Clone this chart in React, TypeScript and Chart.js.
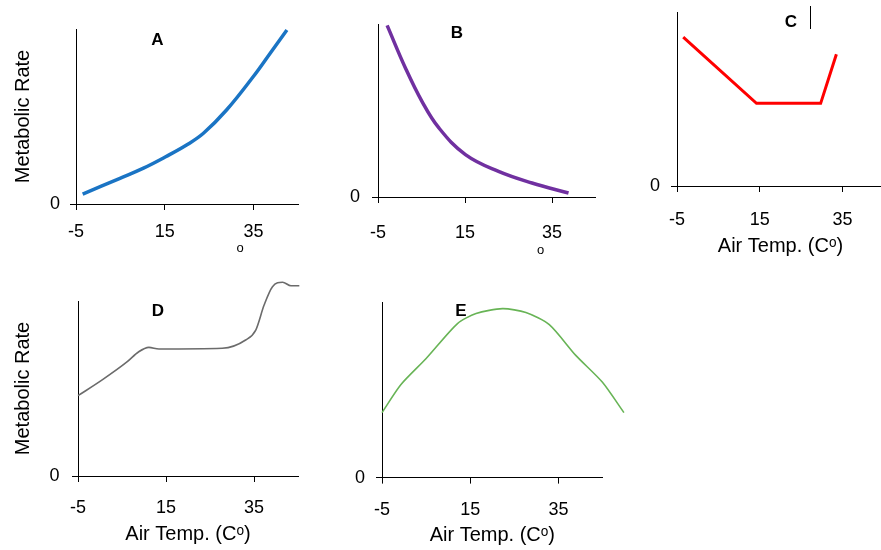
import React, { useEffect, useRef } from "react";
import { Chart, registerables } from "chart.js";

Chart.register(...registerables);

// ---- data ----
const xTickValues = [-5, 15, 35];
const yTickValues = [0];
const xMin = -5;
const xMax = 45;
const yMin = 0;
const yMax = 100;

const aTemps = [-3.5, 4.9, 10.2, 15.2, 19.9, 23.7, 28.9, 34.9, 38.7, 42.5];
const aRates = [5.7, 14.7, 20.5, 27, 33.7, 40.4, 53.7, 72.7, 86, 99.4];

const bTemps = [-2.9, 1.3, 5.1, 9.0, 15.1, 22.7, 30.4, 38.8];
const bRates = [99.2, 74.6, 55.3, 39.9, 24.5, 14.8, 8.1, 2.3];

const cTemps = [-3.5, 14.2, 29.7, 33.5];
const cRates = [85.5, 47.5, 47.5, 75.7];

const dTemps = [-5, 0.5, 6.2, 8.8, 11.1, 13.4, 27.8, 33.1, 35.4, 37.3, 39.2, 41.5, 43.4, 45.3];
const dRates = [45.9, 54.9, 65.3, 71, 73.5, 72.6, 73, 77.7, 83.4, 97.7, 108.2, 110.7, 108.7, 108.7];

const eTemps = [-5, -0.7, 5.0, 12.1, 16.3, 22.3, 27.6, 32.9, 38.9, 44.9, 49.8];
const eRates = [37, 53, 67.8, 87.7, 93.4, 96.2, 94, 87.1, 69.6, 54.4, 37];

const yTitleText = "Metabolic Rate";
const xTitleText = "Air Temp. (C\u1D52)";
const panelLetters = ["A", "B", "C", "D", "E"];

const FONT = "'Liberation Sans', Arial, Helvetica, sans-serif";

type Panel = {
  temps: number[];
  rates: number[];
  color: string;
  width: number;
  tension: number;
  mono: boolean;
  area: { L: number; T: number; R: number; B: number };
  yAxisW: number;
  xAxisH: number;
  padRight: number;
  xTickPad: number;
  yTickPad: number;
  yTitle: string | null;
  xTitle: string | null;
};

const panels: Panel[] = [
  {
    temps: aTemps, rates: aRates, color: "#1a74c4", width: 3.5, tension: 0.4, mono: false,
    area: { L: 76, T: 29, R: 298, B: 204 }, yAxisW: 76, xAxisH: 50, padRight: 20,
    xTickPad: 11, yTickPad: 10, yTitle: yTitleText, xTitle: null,
  },
  {
    temps: bTemps, rates: bRates, color: "#7030a0", width: 3.5, tension: 0.4, mono: false,
    area: { L: 378, T: 24, R: 595.5, B: 197 }, yAxisW: 58, xAxisH: 50, padRight: 20,
    xTickPad: 19, yTickPad: 12, yTitle: null, xTitle: null,
  },
  {
    temps: cTemps, rates: cRates, color: "#ff0000", width: 3, tension: 0, mono: false,
    area: { L: 677, T: 12, R: 884, B: 186 }, yAxisW: 57, xAxisH: 72, padRight: 20,
    xTickPad: 17, yTickPad: 11, yTitle: null, xTitle: xTitleText,
  },
  {
    temps: dTemps, rates: dRates, color: "#6b6b6b", width: 1.6, tension: 0.4, mono: true,
    area: { L: 78, T: 301, R: 298, B: 476 }, yAxisW: 78, xAxisH: 70.4, padRight: 20,
    xTickPad: 15.5, yTickPad: 12.5, yTitle: yTitleText, xTitle: xTitleText,
  },
  {
    temps: eTemps, rates: eRates, color: "#68b456", width: 1.6, tension: 0.25, mono: false,
    area: { L: 382, T: 301.7, R: 602.7, B: 477.3 }, yAxisW: 52, xAxisH: 69.8, padRight: 30,
    xTickPad: 16, yTickPad: 11, yTitle: null, xTitle: xTitleText,
  },
];

const PAD_TOP = 40;
const PAD_BOTTOM = 6;
const TITLE_SIZE = 20;

function canvasRect(p: Panel) {
  const left = p.area.L - p.yAxisW;
  const top = p.area.T - PAD_TOP;
  const width = p.area.R + p.padRight - left;
  const height = p.area.B + p.xAxisH + PAD_BOTTOM - top;
  return { left, top, width: Math.round(width), height: Math.round(height) };
}

function PanelChart({ p }: { p: Panel }) {
  const ref = useRef<HTMLCanvasElement | null>(null);
  const rect = canvasRect(p);
  useEffect(() => {
    if (!ref.current) return;
    const chart = new Chart(ref.current, {
      type: "line",
      data: {
        datasets: [
          {
            data: p.temps.map((t, i) => ({ x: t, y: p.rates[i] })),
            borderColor: p.color,
            backgroundColor: p.color,
            borderWidth: p.width,
            pointRadius: 0,
            tension: p.tension,
            cubicInterpolationMode: p.mono ? "monotone" : "default",
            clip: false,
            fill: false,
            borderCapStyle: "butt",
            borderJoinStyle: "miter",
          } as any,
        ],
      },
      options: {
        responsive: false,
        animation: false,
        events: [],
        layout: {
          padding: {
            left: 0,
            top: PAD_TOP,
            right: rect.left + rect.width - p.area.R,
            bottom: rect.top + rect.height - p.area.B - p.xAxisH,
          },
        },
        plugins: { legend: { display: false }, tooltip: { enabled: false }, title: { display: false } },
        scales: {
          x: {
            type: "linear",
            min: xMin,
            max: xMax,
            afterBuildTicks: (s: any) => {
              s.ticks = xTickValues.map((v) => ({ value: v }));
            },
            afterFit: (s: any) => {
              s.height = p.xAxisH;
            },
            grid: { drawOnChartArea: false, drawTicks: true, tickLength: 6, color: "#000", lineWidth: 1 },
            border: { display: true, color: "#000", width: 1 },
            ticks: {
              padding: p.xTickPad,
              color: "#000",
              maxRotation: 0,
              autoSkip: false,
              font: { family: FONT, size: 18 },
            },
            title: {
              display: !!p.xTitle,
              text: p.xTitle || "",
              color: "#000",
              font: { family: FONT, size: TITLE_SIZE },
              padding: { top: 0, bottom: 0 },
            },
          },
          y: {
            type: "linear",
            min: yMin,
            max: yMax,
            afterBuildTicks: (s: any) => {
              s.ticks = yTickValues.map((v) => ({ value: v }));
            },
            afterFit: (s: any) => {
              s.width = p.yAxisW;
            },
            grid: { drawOnChartArea: false, drawTicks: true, tickLength: 6, color: "#000", lineWidth: 1 },
            border: { display: true, color: "#000", width: 1 },
            ticks: {
              padding: p.yTickPad,
              color: "#000",
              autoSkip: false,
              font: { family: FONT, size: 18 },
            },
            title: {
              display: !!p.yTitle,
              text: p.yTitle || "",
              color: "#000",
              font: { family: FONT, size: TITLE_SIZE },
              padding: { top: 23 - rect.left - TITLE_SIZE * 0.6, bottom: 0 },
            },
          },
        },
      } as any,
    });
    return () => chart.destroy();
  }, []);
  return (
    <canvas
      ref={ref}
      width={rect.width}
      height={rect.height}
      style={{ position: "absolute", left: rect.left, top: rect.top, width: rect.width, height: rect.height }}
    />
  );
}

const letterPos: Array<[number, number]> = [
  [157.5, 39],
  [457, 32],
  [791, 21],
  [158, 310],
  [461, 310],
];

export default function App() {
  const textStyle: React.CSSProperties = {
    position: "absolute",
    transform: "translate(-50%, -50%)",
    fontFamily: FONT,
    color: "#000",
    whiteSpace: "nowrap",
    lineHeight: 1,
  };
  return (
    <div
      style={{
        position: "fixed",
        left: 0,
        top: 0,
        width: 881,
        height: 550,
        overflow: "hidden",
        background: "#fff",
      }}
    >
      {panels.map((p, i) => (
        <PanelChart key={i} p={p} />
      ))}
      {panelLetters.map((l, i) => (
        <div key={l} style={{ ...textStyle, left: letterPos[i][0], top: letterPos[i][1], fontSize: 17, fontWeight: 700 }}>
          {l}
        </div>
      ))}
      <div style={{ ...textStyle, left: 240, top: 247, fontSize: 13 }}>o</div>
      <div style={{ ...textStyle, left: 540.5, top: 249, fontSize: 13 }}>o</div>
      <div style={{ position: "absolute", left: 810, top: 6, width: 0, height: 23, borderLeft: "1px solid #000" }} />
    </div>
  );
}
